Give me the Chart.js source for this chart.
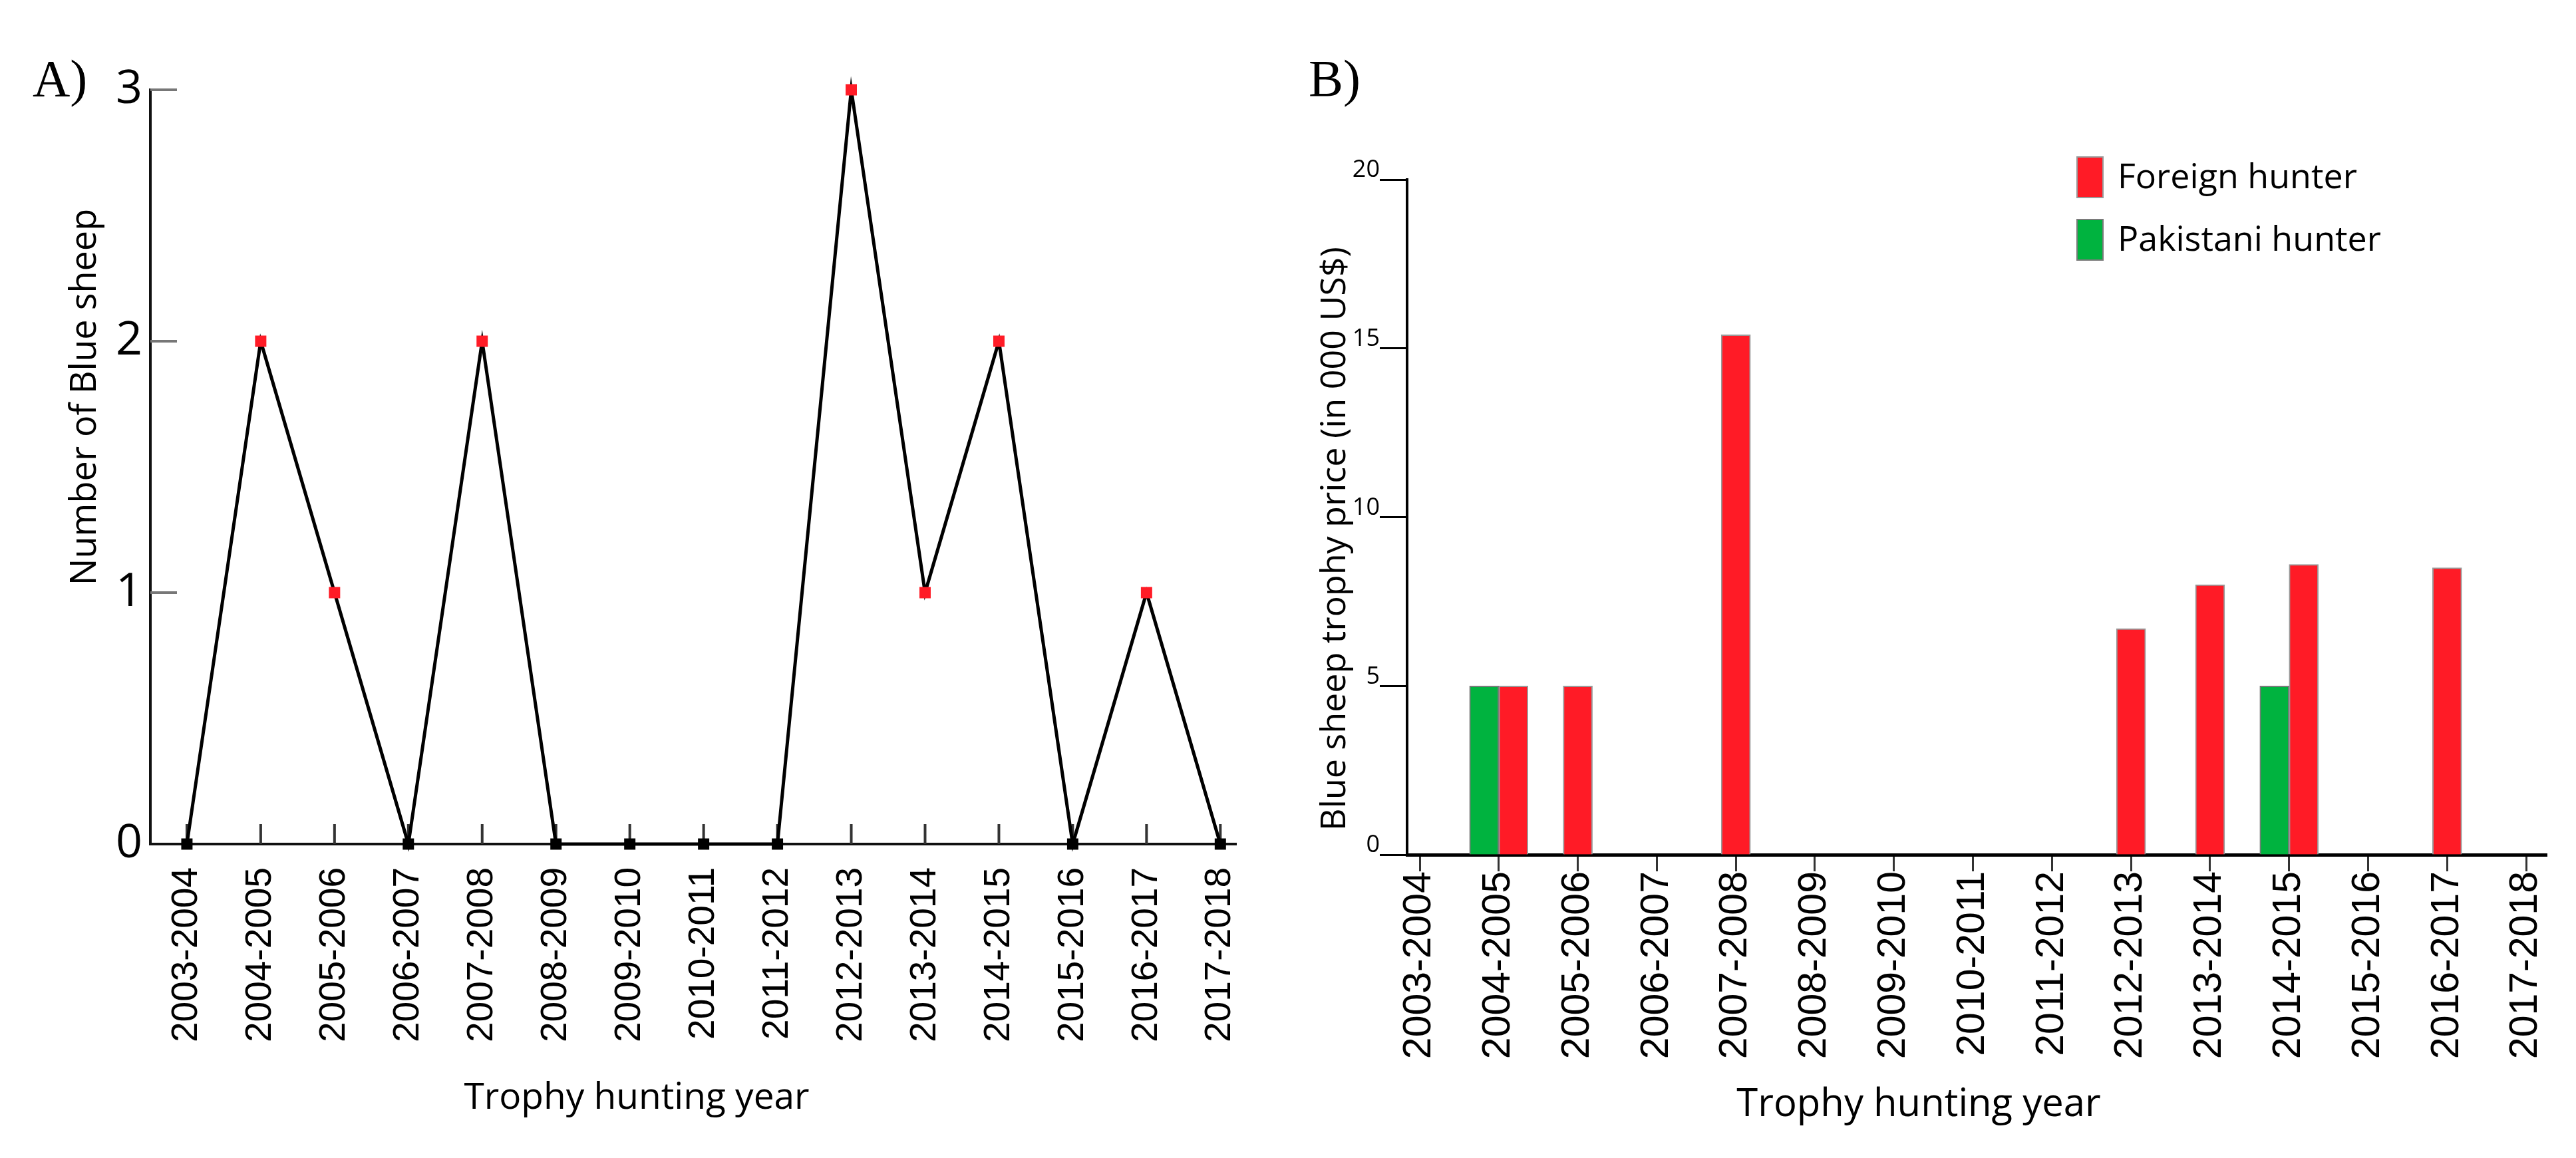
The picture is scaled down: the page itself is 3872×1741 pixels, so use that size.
<!DOCTYPE html>
<html>
<head>
<meta charset="utf-8">
<title>Blue sheep trophy hunting</title>
<script src="https://cdn.jsdelivr.net/npm/chart.js@4.4.1/dist/chart.umd.min.js"></script>
<style>
  html, body { margin: 0; padding: 0; background: #fff; }
  #wrap { position: relative; width: 3872px; height: 1741px; overflow: hidden; }
  canvas { position: absolute; top: 0; }
  #chartA { left: 0; }
  #chartB { left: 1936px; }
</style>
</head>
<body>
<div id="wrap">
  <canvas id="chartA" width="1936" height="1741"></canvas>
  <canvas id="chartB" width="1936" height="1741"></canvas>
</div>
<script>
// hunting seasons (x categories, both panels)
const seasons = ['2003-2004', '2004-2005', '2005-2006', '2006-2007', '2007-2008',
  '2008-2009', '2009-2010', '2010-2011', '2011-2012', '2012-2013',
  '2013-2014', '2014-2015', '2015-2016', '2016-2017', '2017-2018'];

// panel A: number of blue sheep hunted
const blueSheepCount = [0, 2, 1, 0, 2, 0, 0, 0, 0, 3, 1, 2, 0, 1, 0];
const countTicks = [0, 1, 2, 3];

// panel B: trophy price in 000 US$ (null = no trophy)
const foreignHunter = [null, 5, 5, null, 15.4, null, null, null, null, 6.7, 8, 8.6, null, 8.5, null];
const pakistaniHunter = [null, 5, null, null, null, null, null, null, null, null, null, 5, null, null, null];
const priceTicks = [0, 5, 10, 15, 20];

const RED = '#ff1b26';
const GREEN = '#00b33f';

Chart.defaults.font.family = "'Open Sans', sans-serif";
Chart.defaults.color = '#000';

// free text: panel letters and axis titles
const textMarks = {
  id: 'textMarks',
  afterDraw(chart, args, opts) {
    const ctx = chart.ctx;
    (opts.items || []).forEach(t => {
      ctx.save();
      ctx.font = t.font;
      ctx.fillStyle = '#000';
      ctx.textAlign = t.align || 'left';
      ctx.textBaseline = 'alphabetic';
      ctx.translate(t.x, t.y);
      if (t.rotate) ctx.rotate(t.rotate);
      ctx.fillText(t.text, 0, 0);
      ctx.restore();
    });
  }
};

// tick marks pointing into the plot (panel A)
const innerTicks = {
  id: 'innerTicks',
  beforeDatasetsDraw(chart, args, opts) {
    const { ctx, chartArea, scales: { x, y } } = chart;
    ctx.save();
    ctx.lineWidth = opts.width;
    ctx.strokeStyle = opts.xColor;
    x.ticks.forEach(t => {
      const px = x.getPixelForValue(t.value);
      ctx.beginPath();
      ctx.moveTo(px, chartArea.bottom);
      ctx.lineTo(px, chartArea.bottom - opts.xLength);
      ctx.stroke();
    });
    ctx.strokeStyle = opts.yColor;
    y.ticks.forEach(t => {
      if (t.value === y.min) return;
      const py = y.getPixelForValue(t.value);
      ctx.beginPath();
      ctx.moveTo(chartArea.left, py);
      ctx.lineTo(chartArea.left + opts.yLength, py);
      ctx.stroke();
    });
    ctx.restore();
  }
};

// legend with tall swatches (panel B)
const swatchLegend = {
  id: 'swatchLegend',
  afterDraw(chart, args, opts) {
    const ctx = chart.ctx;
    const sets = chart.data.datasets.slice().reverse();
    ctx.save();
    ctx.font = opts.font;
    ctx.textBaseline = 'middle';
    sets.forEach((ds, k) => {
      const top = opts.y + k * opts.step;
      ctx.fillStyle = ds.backgroundColor;
      ctx.fillRect(opts.x, top, opts.boxWidth, opts.boxHeight);
      ctx.lineWidth = 2;
      ctx.strokeStyle = ds.borderColor;
      ctx.strokeRect(opts.x, top, opts.boxWidth, opts.boxHeight);
      ctx.fillStyle = '#000';
      ctx.fillText(ds.label, opts.x + opts.boxWidth + opts.gap, top + opts.boxHeight / 2 + 2);
    });
    ctx.restore();
  }
};

const seasonLabel = v => seasons[v];

// ---------- panel A ----------
new Chart(document.getElementById('chartA'), {
  type: 'line',
  data: {
    datasets: [{
      label: 'Number of Blue sheep',
      data: blueSheepCount.map((v, i) => ({ x: i, y: v })),
      borderColor: '#000',
      borderWidth: 5,
      tension: 0,
      pointStyle: 'rect',
      pointRadius: 12,
      pointBorderWidth: 0,
      pointBackgroundColor: blueSheepCount.map(v => v > 0 ? RED : '#000'),
      clip: false
    }]
  },
  options: {
    responsive: false,
    animation: false,
    devicePixelRatio: 1,
    layout: { padding: { left: 0, top: 135, right: 46, bottom: 0 } },
    plugins: {
      legend: { display: false },
      tooltip: { enabled: false },
      innerTicks: { width: 4, xLength: 30, yLength: 40, xColor: '#333', yColor: '#777' },
      textMarks: {
        items: [
          { text: 'A)', x: 49, y: 144, font: "78px 'Liberation Serif', serif" },
          { text: 'Trophy hunting year', x: 957, y: 1667, align: 'center', font: "55px 'Open Sans'" },
          { text: 'Number of Blue sheep', x: 144, y: 597, align: 'center', rotate: -Math.PI / 2, font: "54px 'Open Sans'" }
        ]
      }
    },
    scales: {
      x: {
        type: 'linear',
        min: -0.495,
        max: 14.22,
        afterBuildTicks: s => { s.ticks = seasons.map((_, i) => ({ value: i })); },
        afterFit: s => { s.height = 472; },
        grid: { drawOnChartArea: false, drawTicks: false },
        border: { color: '#111', width: 4 },
        ticks: {
          callback: seasonLabel,
          autoSkip: false,
          minRotation: 90,
          maxRotation: 90,
          padding: 35,
          font: { family: "'Liberation Sans', Arial", size: 55 }
        }
      },
      y: {
        min: 0,
        max: 3,
        afterBuildTicks: s => { s.ticks = countTicks.map(v => ({ value: v })); },
        afterFit: s => { s.width = 226; },
        grid: { drawOnChartArea: false, drawTicks: false },
        border: { color: '#111', width: 4 },
        ticks: { padding: 12, font: { size: 70 } }
      }
    }
  },
  plugins: [innerTicks, textMarks]
});

// ---------- panel B ----------
new Chart(document.getElementById('chartB'), {
  type: 'bar',
  data: {
    datasets: [
      {
        label: 'Pakistani hunter',
        data: pakistaniHunter.map((v, i) => ({ x: i, y: v })),
        backgroundColor: GREEN,
        borderColor: '#7a7a7a',
        borderWidth: 2
      },
      {
        label: 'Foreign hunter',
        data: foreignHunter.map((v, i) => ({ x: i, y: v })),
        backgroundColor: RED,
        borderColor: '#9a9a9a',
        borderWidth: 2
      }
    ]
  },
  options: {
    responsive: false,
    animation: false,
    devicePixelRatio: 1,
    datasets: { bar: { barThickness: 44, skipNull: true } },
    layout: { padding: { left: 0, top: 270, right: 44, bottom: 0 } },
    plugins: {
      legend: { display: false },
      tooltip: { enabled: false },
      swatchLegend: { x: 1186, y: 236, step: 94, boxWidth: 39, boxHeight: 61, gap: 22, font: "52px 'Open Sans'" },
      textMarks: {
        items: [
          { text: 'B)', x: 31, y: 144, font: "78px 'Liberation Serif', serif" },
          { text: 'Trophy hunting year', x: 948, y: 1678, align: 'center', font: "58px 'Open Sans'" },
          { text: 'Blue sheep trophy price (in 000 US$)', x: 86, y: 810, align: 'center', rotate: -Math.PI / 2, font: "52px 'Open Sans'" }
        ]
      }
    },
    scales: {
      x: {
        type: 'linear',
        min: -0.16,
        max: 14.26,
        offset: false,
        afterBuildTicks: s => { s.ticks = seasons.map((_, i) => ({ value: i })); },
        afterFit: s => { s.height = 456; },
        grid: { offset: false, drawOnChartArea: false, tickLength: 25, tickWidth: 3, tickColor: '#333' },
        border: { color: '#000', width: 5 },
        ticks: {
          callback: seasonLabel,
          autoSkip: false,
          minRotation: 90,
          maxRotation: 90,
          padding: 0,
          font: { family: "'Liberation Sans', Arial", size: 59 }
        }
      },
      y: {
        min: 0,
        max: 20,
        afterBuildTicks: s => { s.ticks = priceTicks.map(v => ({ value: v })); },
        afterFit: s => { s.width = 179; },
        grid: { drawOnChartArea: false, tickLength: 41, tickWidth: 3, tickColor: '#000' },
        border: { color: '#000', width: 4 },
        ticks: { padding: 0, labelOffset: -14, font: { size: 36 } }
      }
    }
  },
  plugins: [swatchLegend, textMarks]
});
</script>
</body>
</html>
